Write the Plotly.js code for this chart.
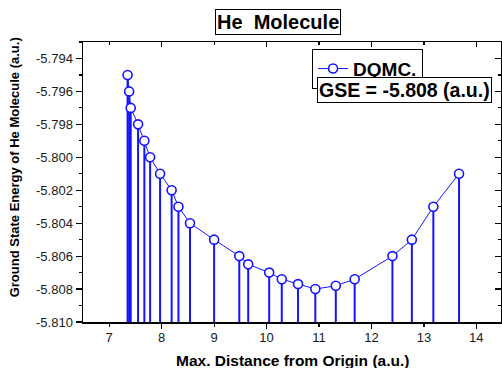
<!DOCTYPE html>
<html>
<head>
<meta charset="utf-8">
<script src="https://cdn.plot.ly/plotly-3.0.1.min.js"></script>
<style>
  html, body { margin: 0; padding: 0; background: #fff; }
  #chart { width: 502px; height: 368px; }
</style>
</head>
<body>
<div id="chart"></div>
<script>
// Maximum distance from origin (a.u.) and DQMC ground state energy (a.u.)
const distance = [7.35, 7.38, 7.41, 7.55, 7.67, 7.78, 7.97, 8.19, 8.32, 8.54, 9.00, 9.48, 9.65,
                  10.05, 10.29, 10.60, 10.93, 11.32, 11.68, 12.40, 12.77, 13.18, 13.67];
const energy = [-5.795, -5.796, -5.797, -5.798, -5.799, -5.800, -5.801, -5.802, -5.803, -5.804,
                -5.805, -5.806, -5.8065, -5.807, -5.8074, -5.8077, -5.808, -5.8078, -5.8074,
                -5.806, -5.805, -5.803, -5.801];
const seriesName = 'DQMC.';
const gseLabel = 'GSE = -5.808 (a.u.)';

// Axis tick labels
const xTickVals = [7, 8, 9, 10, 11, 12, 13, 14];
const xTickText = ['7', '8', '9', '10', '11', '12', '13', '14'];
const yTickVals = [-5.810, -5.808, -5.806, -5.804, -5.802, -5.800, -5.798, -5.796, -5.794];
const yTickText = ['-5.810', '-5.808', '-5.806', '-5.804', '-5.802', '-5.800', '-5.798', '-5.796', '-5.794'];

const yBase = -5.810;
const xRange = [6.5, 14.47];
const yRange = [-5.810, -5.793];

const BLUE = '#1414ff';
const FONT = 'Arial, "Liberation Sans", sans-serif';

// Drop lines from each point to the baseline, drawn as one-sided error bars
const dropLengths = energy.map(v => v - yBase);

const trace = {
  type: 'scatter',
  mode: 'lines+markers',
  name: seriesName,
  x: distance,
  y: energy,
  line: { color: BLUE, width: 1 },
  marker: { symbol: 'circle', size: 9, color: '#ffffff', line: { color: BLUE, width: 1.6 } },
  error_y: {
    type: 'data', symmetric: false,
    array: energy.map(() => 0),
    arrayminus: dropLengths,
    color: BLUE, thickness: 2, width: 0
  },
  cliponaxis: false
};

// Hidden helper traces (outside the visible ranges) so the overlay frame axes get drawn
const frameTrace = (xa, ya) => ({
  type: 'scatter', mode: 'markers', x: [0], y: [0], opacity: 0,
  xaxis: xa, yaxis: ya, showlegend: false, hoverinfo: 'skip'
});

const tickFont = { family: FONT, size: 13, color: '#1a1a1a' };

const layout = {
  width: 502, height: 368,
  margin: { l: 83, r: 1, t: 42, b: 46 },
  paper_bgcolor: '#ffffff',
  plot_bgcolor: '#ffffff',
  showlegend: true,
  font: { family: FONT },
  xaxis: {
    range: xRange, showgrid: false, zeroline: false,
    showline: true, mirror: true, linecolor: '#000', linewidth: 1.5,
    ticks: 'outside', tick0: 8, dtick: 2, ticklen: 5, tickwidth: 1.2, tickcolor: '#000',
    minor: { tick0: 7, dtick: 1, ticks: 'outside', ticklen: 3, tickwidth: 1.2, tickcolor: '#000' },
    showticklabels: false
  },
  // labels for every integer along the bottom
  xaxis2: {
    overlaying: 'x', anchor: 'y', side: 'bottom', range: xRange,
    showgrid: false, zeroline: false, showline: false,
    ticks: '', tickmode: 'array', tickvals: xTickVals, ticktext: xTickText,
    tickfont: tickFont, ticklabelstandoff: 6
  },
  // top frame with inward ticks
  xaxis3: {
    overlaying: 'x', anchor: 'y', side: 'top', range: xRange,
    showgrid: false, zeroline: false,
    showline: true, linecolor: '#000', linewidth: 1.5,
    ticks: 'inside', tickmode: 'linear', tick0: 8, dtick: 2, ticklen: 5, tickwidth: 1.2, tickcolor: '#000',
    minor: { tick0: 7, dtick: 1, ticks: 'inside', ticklen: 3, tickwidth: 1.2, tickcolor: '#000' },
    showticklabels: false
  },
  yaxis: {
    range: yRange, showgrid: false, zeroline: false,
    showline: true, linecolor: '#000', linewidth: 1.5,
    ticks: 'outside', tickmode: 'array', tickvals: yTickVals, ticktext: yTickText,
    ticklen: 6, tickwidth: 1.2, tickcolor: '#000',
    minor: { tick0: -5.810, dtick: 0.001, ticks: 'outside', ticklen: 3, tickwidth: 1.2, tickcolor: '#000' },
    tickfont: tickFont
  },
  // right frame with inward ticks
  yaxis2: {
    overlaying: 'y', anchor: 'x', side: 'right', range: yRange,
    showgrid: false, zeroline: false,
    showline: true, linecolor: '#000', linewidth: 1.5,
    ticks: 'inside', tickmode: 'array', tickvals: yTickVals,
    ticklen: 6, tickwidth: 1.2, tickcolor: '#000',
    minor: { tick0: -5.810, dtick: 0.001, ticks: 'inside', ticklen: 3, tickwidth: 1.2, tickcolor: '#000' },
    showticklabels: false
  },
  legend: {
    x: 0.548, y: 0.976, xanchor: 'left', yanchor: 'top',
    bgcolor: '#ffffff', bordercolor: '#000', borderwidth: 1,
    font: { family: FONT, size: 19, color: '#000', weight: 'bold' },
    itemwidth: 30, tracegroupgap: 0
  },
  annotations: [
    {
      text: 'He\u00a0 Molecule', xref: 'paper', yref: 'paper', x: 0.4665, y: 1.071,
      xanchor: 'center', yanchor: 'middle', showarrow: false,
      font: { family: FONT, size: 20, color: '#000', weight: 'bold' },
      bordercolor: '#000', borderwidth: 1, borderpad: 1, bgcolor: '#fff'
    },
    {
      text: gseLabel, xref: 'paper', yref: 'paper', x: 0.769, y: 0.830,
      xanchor: 'center', yanchor: 'middle', showarrow: false,
      font: { family: FONT, size: 19.5, color: '#000', weight: 'bold' },
      bordercolor: '#000', borderwidth: 1, borderpad: 1, bgcolor: '#fff'
    },
    {
      text: 'Max. Distance from Origin (a.u.)', xref: 'paper', yref: 'paper', x: 0.5, y: -0.136,
      xanchor: 'center', yanchor: 'middle', showarrow: false,
      font: { family: FONT, size: 15.5, color: '#000', weight: 'bold' }
    },
    {
      text: 'Ground State Energy of He Molecule (a.u.)', xref: 'paper', yref: 'paper',
      x: -0.163, y: 0.552, textangle: -90,
      xanchor: 'center', yanchor: 'middle', showarrow: false,
      font: { family: FONT, size: 13, color: '#000', weight: 'bold' }
    }
  ]
};

Plotly.newPlot('chart', [trace, frameTrace('x2', 'y'), frameTrace('x3', 'y'), frameTrace('x', 'y2')],
  layout, { displayModeBar: false, staticPlot: true });
</script>
</body>
</html>
